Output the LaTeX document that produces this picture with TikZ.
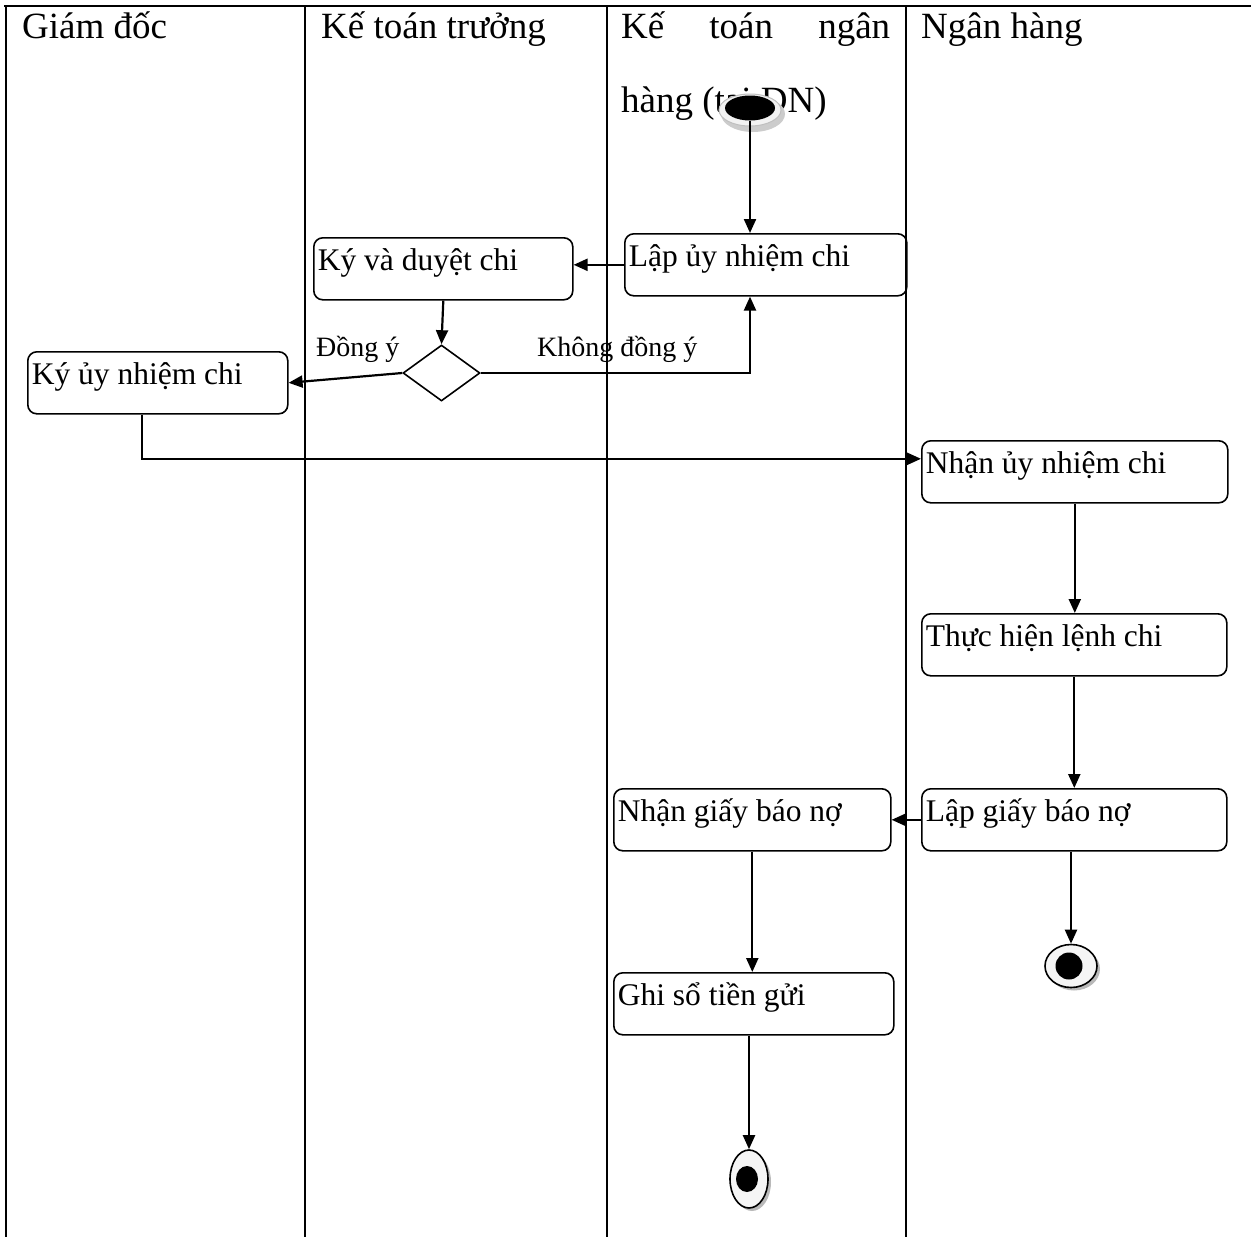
\documentclass[tikz,border=0pt]{standalone}
\usepackage{fontspec}
\setmainfont{Liberation Serif}
\usetikzlibrary{arrows.meta,shapes.geometric,shadows,calc}
\begin{document}
\begin{tikzpicture}[x=1pt,y=-1pt,
  lane/.style={line width=2.4pt},
  act/.style={draw, line width=1.6pt, rounded corners=9pt, anchor=north west,
    align=flush left, inner xsep=4pt, inner ysep=4.5pt, text height=28pt, text depth=25pt,
    font=\fontsize{31.5}{36}\selectfont},
  flow/.style={line width=2.2pt, -{Triangle[length=14pt,width=12pt]}},
  head/.style={anchor=base west, inner sep=0pt, font=\fontsize{37}{44}\selectfont},
  guard/.style={anchor=base west, inner sep=0pt, font=\fontsize{28}{32}\selectfont},
  choice/.style={draw, diamond, line width=1.6pt, minimum width=77pt,
    minimum height=56pt, inner sep=0pt},
  final/.style={ellipse, draw, line width=1.6pt, fill=gray!8, inner sep=0pt,
    drop shadow={shadow xshift=3pt, shadow yshift=-3pt, fill=gray!55, opacity=1}}
]
\useasboundingbox (0,0) rectangle (1251,1237);

% swimlane frame
\draw[lane] (4,6) -- (1251,6);
\foreach \x in {6,305,607,906} \draw[lane] (\x,6) -- (\x,1237);

% lane titles
\node[head] (h1) at (22,38) {Giám đốc};
\node[head] (h2) at (321,38) {Kế toán trưởng};
\node[head] (h3) at (621,38) {\hbox to 269pt{Kế\hfill toán\hfill ngân}};
\node[head] (h3b) at (621,112) {hàng (tại DN)};
\node[head] (h4) at (921,38) {Ngân hàng};

% activities
\node[act, text width=274pt] (lap) at (624,233) {Lập ủy nhiệm chi};
\node[act, text width=251pt] (ky) at (313,237) {Ký và duyệt chi};
\node[act, text width=252pt] (kyunc) at (27,351) {Ký ủy nhiệm chi};
\node[act, text width=298pt] (nhan) at (921,440) {Nhận ủy nhiệm chi};
\node[act, text width=297pt] (thuc) at (921,613) {Thực hiện lệnh chi};
\node[act, text width=297pt] (lapgiay) at (921,788) {Lập giấy báo nợ};
\node[act, text width=269pt] (nhangiay) at (613,788) {Nhận giấy báo nợ};
\node[act, text width=272pt] (ghiso) at (613,972) {Ghi sổ tiền gửi};

% decision
\node[choice] (dec) at (441.5,373) {};
\node[guard] (lbyes) at (316,356) {Đồng ý};
\node[guard] (lbno) at (537,356) {Không đồng ý};

% initial node with its light ring
\fill[gray!40] (753,114) ellipse [x radius=32pt, y radius=18pt];
\fill[gray!10] (750,110) ellipse [x radius=31pt, y radius=16pt];
\draw[gray!50, line width=1pt] (750,110) ellipse [x radius=31pt, y radius=16pt];
\node[ellipse, fill=black, minimum width=50pt, minimum height=25pt, inner sep=0pt] (start) at (750,108) {};

% final nodes
\node[final, minimum width=52pt, minimum height=43pt] (end1) at (1071,966) {};
\fill (1069,966) circle [radius=13.5pt];
\node[final, minimum width=38pt, minimum height=58pt] (end2) at (749,1179) {};
\fill (747,1179) ellipse [x radius=11pt, y radius=13pt];

% control flow
\draw[flow] (start.south) -- (start.south |- lap.north);
\draw[flow] (lap.west) -- (lap.west -| ky.east);
\draw[flow] (ky.south) -- (dec.north);
\draw[flow] (dec.west) -- (kyunc.east);
\draw[flow] (dec.east) -| (start |- lap.south);
\draw[flow] ([xshift=-16pt]kyunc.south) |- ([yshift=13pt]nhan.west);
\draw[flow] (nhan.south) -- (nhan.south |- thuc.north);
\draw[flow] (thuc.south) -- (thuc.south |- lapgiay.north);
\draw[flow] (lapgiay.west) -- (nhangiay.east);
\draw[flow] (end1 |- lapgiay.south) -- (end1.north);
\draw[flow] (nhangiay.south) -- (nhangiay.south |- ghiso.north);
\draw[flow] (end2 |- ghiso.south) -- (end2.north);
\end{tikzpicture}
\end{document}
